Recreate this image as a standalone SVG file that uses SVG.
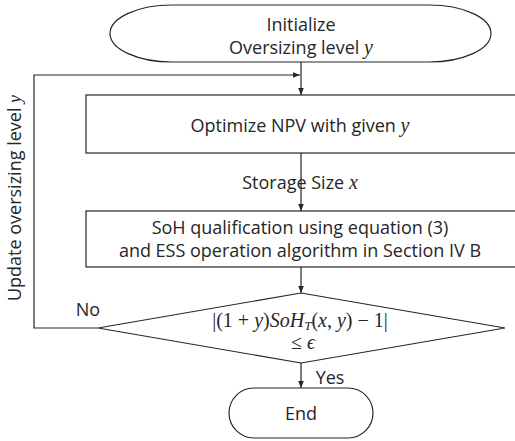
<svg xmlns="http://www.w3.org/2000/svg" width="515" height="441" viewBox="0 0 515 441">
<defs>
<marker id="ah" viewBox="0 0 10 10" refX="10" refY="5" markerWidth="7" markerHeight="7" orient="auto" markerUnits="userSpaceOnUse"><path d="M0,1 L10,5 L0,9 z" fill="#262626"/></marker>
</defs>
<style>
.s{fill:#fff;stroke:#262626;stroke-width:1.2}
.t{font-family:"Open Sans","Noto Sans",sans-serif;font-size:18px;fill:#262626;text-anchor:middle}
.m{font-family:"Liberation Serif","DejaVu Serif",serif;font-size:20px;fill:#262626;text-anchor:middle}
.c{fill:none;stroke:#262626;stroke-width:1.2}
</style>
<rect width="515" height="441" fill="#fff"/>
<g id="connectors">
<path class="c" d="M301,62 V95" marker-end="url(#ah)"/>
<path class="c" d="M98,328 H34 V75 H300" marker-end="url(#ah)"/>
<path class="c" d="M301,153 V211" marker-end="url(#ah)"/>
<path class="c" d="M301,267 V293" marker-end="url(#ah)"/>
<path class="c" d="M301,363 V388" marker-end="url(#ah)"/>
<text class="t" x="300" y="189">Storage Size <tspan font-family="Liberation Serif,serif" font-style="italic" font-size="20">x</tspan></text>
<text class="t" x="88" y="316">No</text>
<text class="t" x="330" y="384">Yes</text>
<text class="t" font-size="16" transform="translate(21,198) rotate(-90)">Update oversizing level <tspan font-family="Liberation Serif,serif" font-style="italic" font-size="18">y</tspan></text>
</g>
<g id="init">
<rect class="s" x="110" y="5" width="381" height="57" rx="62" ry="28.5"/>
<text class="t" x="301" y="31">Initialize</text>
<text class="t" x="301" y="54">Oversizing level <tspan font-family="Liberation Serif,serif" font-style="italic" font-size="20">y</tspan></text>
</g>
<g id="optimize">
<rect class="s" x="86" y="95" width="440" height="58"/>
<text class="t" x="300" y="132">Optimize NPV with given <tspan font-family="Liberation Serif,serif" font-style="italic" font-size="20">y</tspan></text>
</g>
<g id="soh">
<rect class="s" x="86" y="211" width="440" height="56"/>
<text class="t" x="300" y="234">SoH qualification using equation (3)</text>
<text class="t" x="300" y="257">and ESS operation algorithm in Section IV B</text>
</g>
<g id="decision">
<path class="s" d="M301,293 L505,328 L301,363 L98,328 Z"/>
<text class="m" x="300" y="327">|(1 + <tspan font-style="italic">y</tspan>)<tspan font-style="italic">SoH</tspan><tspan font-style="italic" font-size="13" dy="3">T</tspan><tspan dy="-3">(</tspan><tspan font-style="italic">x</tspan>, <tspan font-style="italic">y</tspan>) − 1|</text>
<text class="m" x="303" y="349">≤ <tspan font-style="italic">ϵ</tspan></text>
</g>
<g id="end">
<rect class="s" x="229" y="388" width="144" height="50" rx="25" ry="25"/>
<text class="t" x="301" y="420">End</text>
</g>
</svg>
